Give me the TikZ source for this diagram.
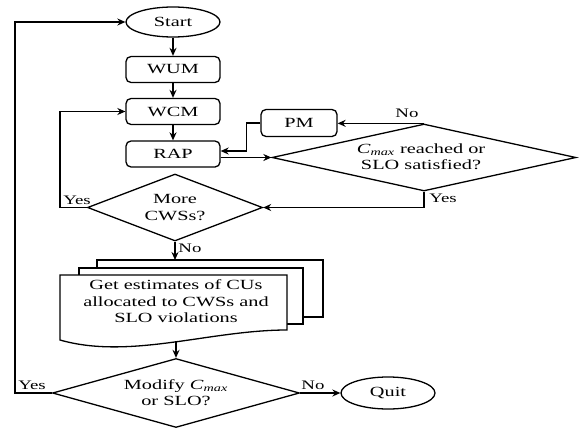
\documentclass[tikz,border=0pt]{standalone}
\usepackage{fontspec}
\setmainfont{Liberation Serif}
\usetikzlibrary{shapes.geometric,arrows.meta}
\newcommand{\sx}[1]{\scalebox{1.45}[1]{#1}}
\newcommand{\sxl}[1]{\scalebox{1.45}[1]{\begin{tabular}{@{}c@{}}#1\end{tabular}}}
\newcommand{\mainfs}{\fontsize{14}{16.5}\selectfont}
\newcommand{\lblfs}{\fontsize{13}{15}\selectfont}
\tikzset{
 base/.style={line width=1.3pt},
 arr/.style={base,-{Stealth[length=8pt,width=7pt]}},
 procbox/.style={draw,base,rounded corners=5pt,minimum width=94,minimum height=26,inner sep=0pt,font=\mainfs},
 term/.style={draw,base,ellipse,minimum width=94,minimum height=30,inner sep=0pt,font=\mainfs},
 decision/.style={draw,base,diamond,inner sep=0pt},
 lbl/.style={font=\lblfs,inner sep=0pt},
 txt/.style={font=\mainfs,inner sep=0pt},
 docsheet/.style={draw,base,fill=white}
}
\begin{document}
\begin{tikzpicture}[x=1pt,y=-1pt]
\useasboundingbox (0,0) rectangle (588,428);
% nodes
\node[term] (start) at (173,22) {\sx{Start}};
\node[procbox] (wum) at (173,69.5) {\sx{WUM}};
\node[procbox] (wcm) at (173,111.5) {\sx{WCM}};
\node[procbox] (rap) at (173,154) {\sx{RAP}};
\node[procbox,minimum width=76,minimum height=27] (pm) at (299,123) {\sx{PM}};
\node[decision,minimum width=304,minimum height=67] (cmax) at (424,157.5) {};
\node[txt] at (421,158) {\sxl{\textit{C}\textsubscript{\textit{max}} reached or\\SLO satisfied?}};
\node[decision,minimum width=175,minimum height=67] (more) at (175,207.5) {};
\node[txt] at (175,208.5) {\sxl{More\\CWSs?}};
% multi-document
\draw[docsheet] (97,260) rectangle (323,317);
\draw[docsheet] (79,268) rectangle (303,324);
\draw[docsheet] (60,275) -- (287,275) -- (287,330)
  .. controls (210,330) and (130,360) .. (60,340) -- cycle;
\node[txt] (doc) at (176,303) {\sxl{Get estimates of CUs\\allocated to CWSs and\\SLO violations}};
\coordinate (dtop) at (175,260);
\coordinate (dbot) at (176,341);
\node[decision,minimum width=247,minimum height=69] (mod) at (176,393) {};
\node[txt] at (176,394) {\sxl{Modify \textit{C}\textsubscript{\textit{max}}\\or SLO?}};
\node[term,minimum height=32] (quit) at (388,393) {\sx{Quit}};
\coordinate (lx) at (15,393);
% connectors
\draw[arr] (start.south) -- (wum.north);
\draw[arr] (wum.south) -- (wcm.north);
\draw[arr] (wcm.south) -- (rap.north);
\draw[arr] ([yshift=-3.5pt]rap.east) -- (cmax.west);
\draw[arr] (cmax.north) -- (cmax.north -| pm.east);
\draw[arr] (pm.west) -- ++(-14,0) |- ([yshift=3pt]rap.east);
\draw[arr] (cmax.south) |- (more.east);
\draw[arr] (more.west) -- ++(-27,0) |- (wcm.west);
\draw[arr] (more.south) -- (dtop);
\draw[arr] (dbot) -- (mod.north);
\draw[arr] (mod.west) -- (lx) |- (start.west);
\draw[arr] (mod.east) -- (quit.west);
% labels
\node[lbl] at (407,113) {\sx{No}};
\node[lbl] at (443,198) {\sx{Yes}};
\node[lbl] at (77,200) {\sx{Yes}};
\node[lbl] at (190,248) {\sx{No}};
\node[lbl] at (32,385) {\sx{Yes}};
\node[lbl] at (313,385) {\sx{No}};
\end{tikzpicture}
\end{document}
